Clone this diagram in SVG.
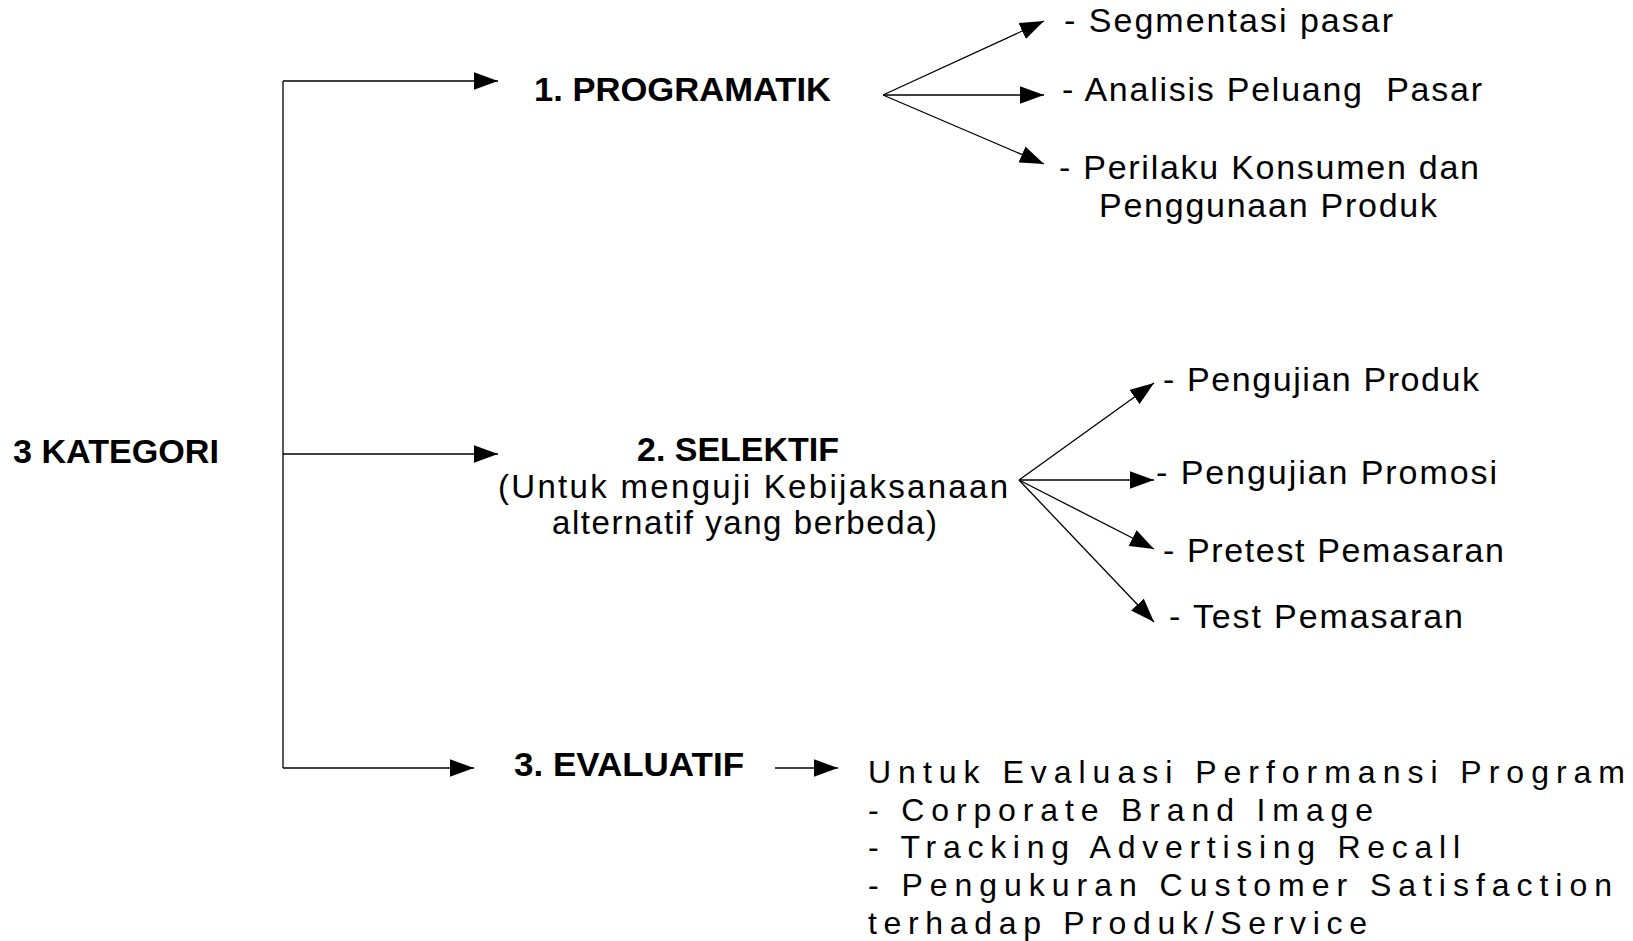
<svg xmlns="http://www.w3.org/2000/svg" width="1633" height="941" viewBox="0 0 1633 941">
<style>
.b{font-family:"Liberation Sans",Arial,sans-serif;font-weight:bold;font-size:33px;fill:#000}
.r{font-family:"Liberation Sans",Arial,sans-serif;font-size:34px;fill:#000}
.s{font-family:"Liberation Sans",Arial,sans-serif;font-size:33px;fill:#000}
.e{font-family:"Liberation Sans",Arial,sans-serif;font-size:32px;fill:#000}
.ln{stroke:#000;stroke-width:1.3;fill:none}
.ar{stroke:#000;stroke-width:1.3;fill:none;marker-end:url(#ah)}
</style>
<defs>
<marker id="ah" markerUnits="userSpaceOnUse" markerWidth="24" markerHeight="18" refX="22" refY="8" orient="auto" viewBox="0 0 22 16"><path d="M0,0L22,8L0,16z" fill="#000"/></marker>
</defs>
<rect width="1633" height="941" fill="#fff"/>
<g id="connectors">
<path class="ln" d="M283,81V768"/>
<line class="ar" x1="283" y1="81" x2="498" y2="81"/>
<line class="ar" x1="283" y1="454" x2="498" y2="454"/>
<line class="ar" x1="283" y1="768" x2="474" y2="768"/>
<line class="ar" x1="775" y1="768" x2="838" y2="768"/>
<line class="ar" x1="883" y1="95" x2="1044" y2="21"/>
<line class="ar" x1="883" y1="95" x2="1044" y2="95"/>
<line class="ar" x1="883" y1="95" x2="1044" y2="164"/>
<line class="ar" x1="1019" y1="480" x2="1154" y2="383"/>
<line class="ar" x1="1019" y1="480" x2="1154" y2="480"/>
<line class="ar" x1="1019" y1="480" x2="1154" y2="549"/>
<line class="ar" x1="1019" y1="480" x2="1154" y2="622"/>
</g>
<g id="kategori"><text class="b" x="13" y="463" textLength="206" lengthAdjust="spacingAndGlyphs">3 KATEGORI</text></g>
<g id="programatik"><text class="b" x="534" y="101" textLength="297" lengthAdjust="spacingAndGlyphs">1. PROGRAMATIK</text></g>
<g id="segmentasi"><text class="r" x="1064" y="32" textLength="329" lengthAdjust="spacing">- Segmentasi pasar</text></g>
<g id="analisis"><text class="r" x="1062" y="101" textLength="420" lengthAdjust="spacing" style="white-space:pre">- Analisis Peluang  Pasar</text></g>
<g id="perilaku"><text class="r" x="1059" y="179" textLength="420" lengthAdjust="spacing">- Perilaku Konsumen dan</text><text class="r" x="1099" y="217" textLength="338" lengthAdjust="spacing">Penggunaan Produk</text></g>
<g id="selektif"><text class="b" x="637" y="461" textLength="202" lengthAdjust="spacingAndGlyphs">2. SELEKTIF</text><text class="s" x="498" y="498" textLength="510" lengthAdjust="spacing">(Untuk menguji Kebijaksanaan</text><text class="s" x="552" y="534" textLength="385" lengthAdjust="spacing">alternatif yang berbeda)</text></g>
<g id="uji-produk"><text class="r" x="1163" y="391" textLength="316" lengthAdjust="spacing">- Pengujian Produk</text></g>
<g id="uji-promosi"><text class="r" x="1156" y="484" textLength="341" lengthAdjust="spacing">- Pengujian Promosi</text></g>
<g id="pretest"><text class="r" x="1163" y="562" textLength="341" lengthAdjust="spacing">- Pretest Pemasaran</text></g>
<g id="test"><text class="r" x="1169" y="628" textLength="294" lengthAdjust="spacing">- Test Pemasaran</text></g>
<g id="evaluatif"><text class="b" x="514" y="776" textLength="230" lengthAdjust="spacingAndGlyphs">3. EVALUATIF</text></g>
<g id="evaluasi-detail">
<text class="e" x="868" y="783" textLength="757" lengthAdjust="spacing">Untuk Evaluasi Performansi Program</text>
<text class="e" x="868" y="821" textLength="505" lengthAdjust="spacing">- Corporate Brand Image</text>
<text class="e" x="868" y="858" textLength="592" lengthAdjust="spacing">- Tracking Advertising Recall</text>
<text class="e" x="868" y="896" textLength="744" lengthAdjust="spacing">- Pengukuran Customer Satisfaction</text>
<text class="e" x="868" y="934" textLength="499" lengthAdjust="spacing">terhadap Produk/Service</text>
</g>
</svg>
